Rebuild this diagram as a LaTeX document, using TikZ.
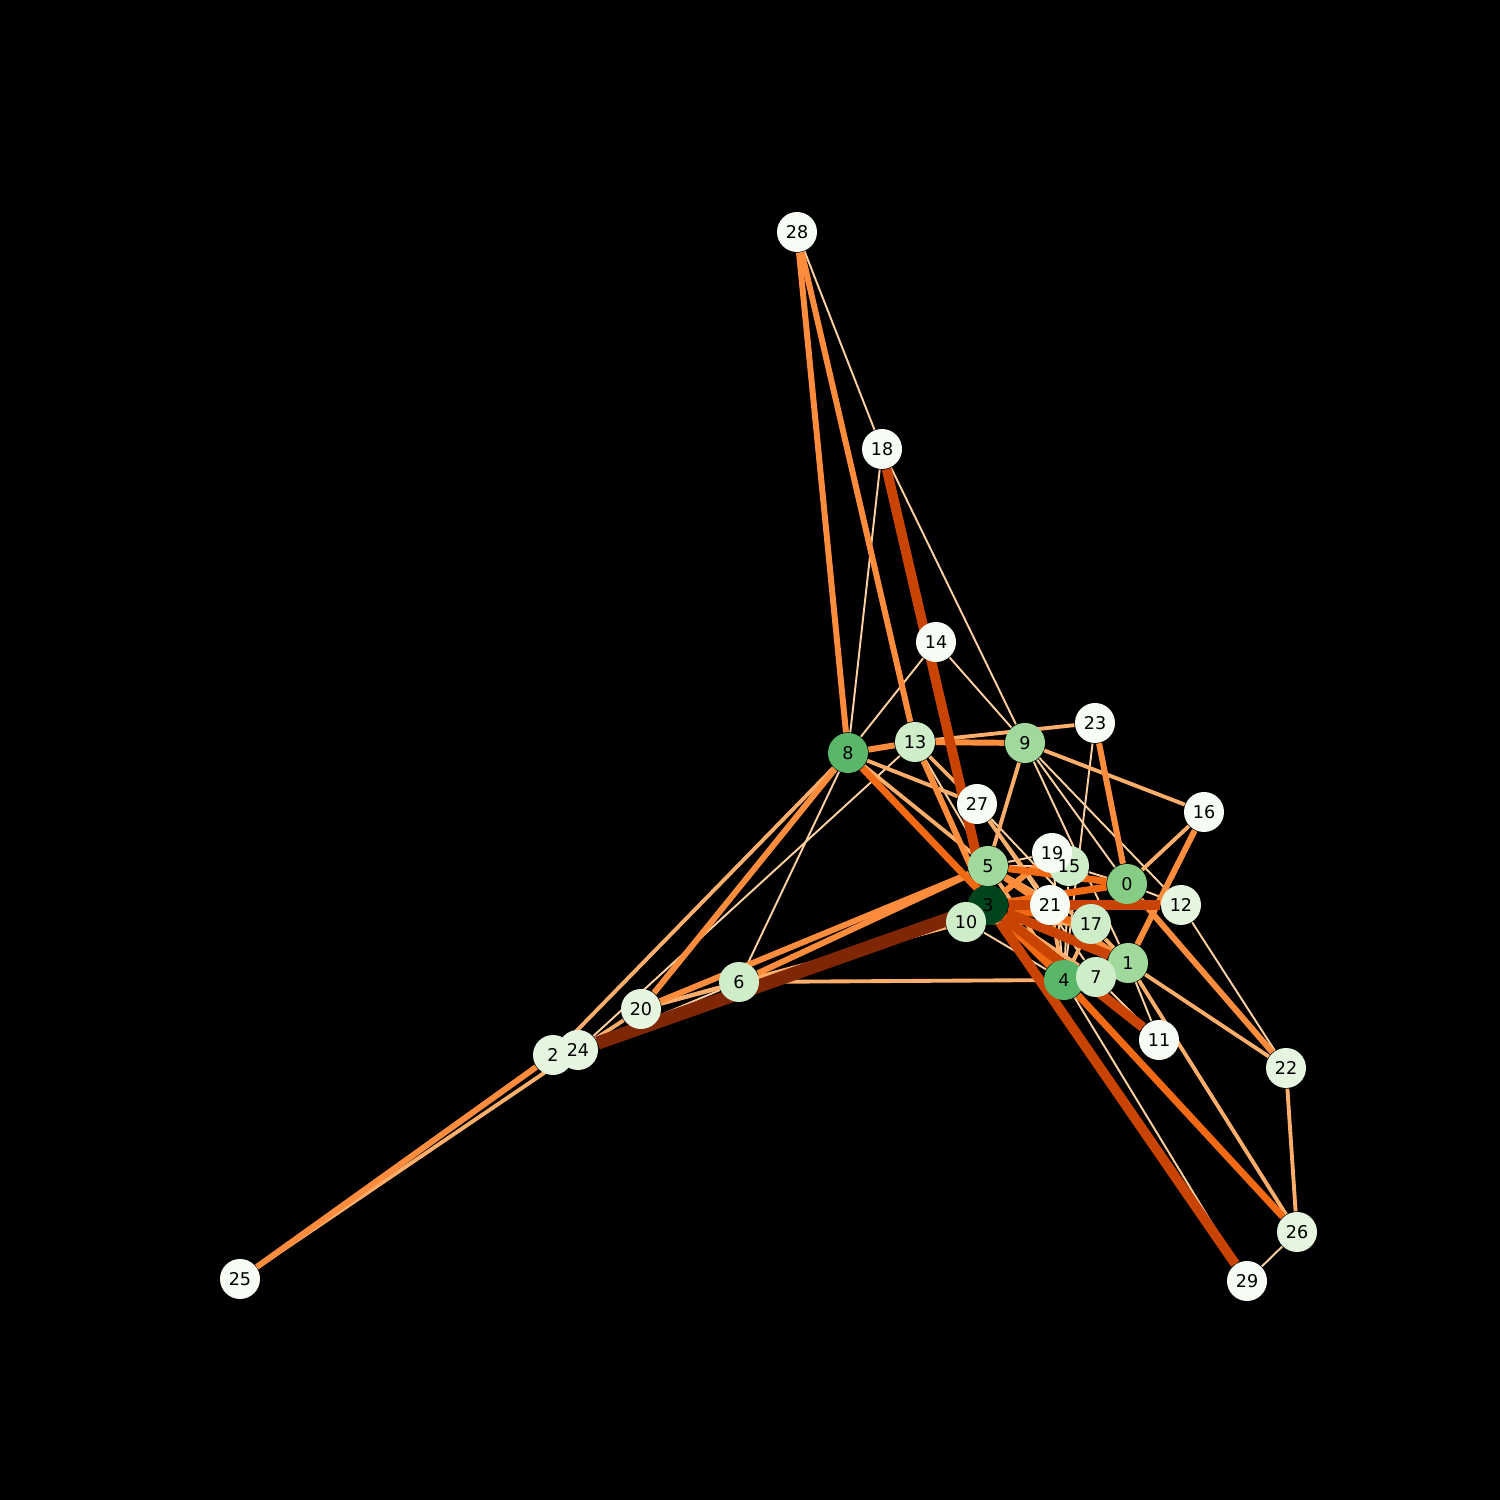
\documentclass[tikz,border=0pt]{standalone}
\usepackage{fontspec}
\setmainfont{DejaVu Sans}
\usepackage{tikz}
\usetikzlibrary{backgrounds}
\definecolor{oA}{HTML}{FDD0A2}
\definecolor{oB}{HTML}{FDAE6B}
\definecolor{oC}{HTML}{FD8D3C}
\definecolor{oD}{HTML}{F16913}
\definecolor{oE}{HTML}{C94403}
\definecolor{oG}{HTML}{7F2704}
\definecolor{gA}{HTML}{F7FCF5}
\definecolor{gB}{HTML}{E5F5E0}
\definecolor{gC}{HTML}{D0EDCA}
\definecolor{gD}{HTML}{A0D99B}
\definecolor{gE}{HTML}{86CC85}
\definecolor{gF}{HTML}{5AB769}
\definecolor{gG}{HTML}{00441B}
\tikzset{vert/.style={shape=circle,minimum size=0.4cm,inner sep=0pt}}
\tikzset{vlabel/.style={inner sep=0pt,font=\fontsize{5}{5}\selectfont}}
\tikzset{eA/.style={draw=oA,line width=0.55pt}}
\tikzset{eB/.style={draw=oB,line width=1.1pt}}
\tikzset{eC/.style={draw=oC,line width=1.7pt}}
\tikzset{eD/.style={draw=oD,line width=2pt}}
\tikzset{eE/.style={draw=oE,line width=2.8pt}}
\tikzset{eG/.style={draw=oG,line width=3.8pt}}

\begin{document}
\begin{tikzpicture}

\useasboundingbox (0,0) rectangle (15,15);

% nodes
\node [vert,fill=gE] (n0) at (11.27, 6.16) {};
\node [vert,fill=gD] (n1) at (11.28, 5.37) {};
\node [vert,fill=gB] (n2) at (5.53, 4.45) {};
\node [vert,fill=gG] (n3) at (9.88, 5.95) {};
\node [vert,fill=gF] (n4) at (10.64, 5.20) {};
\node [vert,fill=gD] (n5) at (9.88, 6.34) {};
\node [vert,fill=gC] (n6) at (7.39, 5.18) {};
\node [vert,fill=gC] (n7) at (10.96, 5.23) {};
\node [vert,fill=gF] (n8) at (8.48, 7.47) {};
\node [vert,fill=gD] (n9) at (10.25, 7.57) {};
\node [vert,fill=gC] (n10) at (9.66, 5.78) {};
\node [vert,fill=gA] (n11) at (11.59, 4.60) {};
\node [vert,fill=gB] (n12) at (11.81, 5.95) {};
\node [vert,fill=gC] (n13) at (9.15, 7.58) {};
\node [vert,fill=gA] (n14) at (9.36, 8.58) {};
\node [vert,fill=gC] (n15) at (10.69, 6.34) {};
\node [vert,fill=gA] (n16) at (12.04, 6.88) {};
\node [vert,fill=gC] (n17) at (10.91, 5.76) {};
\node [vert,fill=gA] (n18) at (8.82, 10.51) {};
\node [vert,fill=gA] (n19) at (10.52, 6.47) {};
\node [vert,fill=gB] (n20) at (6.41, 4.91) {};
\node [vert,fill=gA] (n21) at (10.50, 5.95) {};
\node [vert,fill=gB] (n22) at (12.86, 4.32) {};
\node [vert,fill=gA] (n23) at (10.95, 7.77) {};
\node [vert,fill=gB] (n24) at (5.78, 4.50) {};
\node [vert,fill=gA] (n25) at (2.40, 2.21) {};
\node [vert,fill=gB] (n26) at (12.97, 2.68) {};
\node [vert,fill=gA] (n27) at (9.77, 6.96) {};
\node [vert,fill=gA] (n28) at (7.97, 12.68) {};
\node [vert,fill=gA] (n29) at (12.47, 2.19) {};

% labels above all nodes
\foreach \i in {0,...,29} {\node [vlabel] (l\i) at (n\i) {\i};}

\begin{scope}[on background layer]
\fill [black] (0,0) rectangle (15,15);

\foreach \a/\b in {28/18,18/8,18/9,14/8,14/9,24/13,6/8,24/6,9/12,9/0,9/1,23/4,0/12,0/15,12/22,26/29,4/29,1/11,7/11,27/7,27/17,10/4,5/19,5/15,19/4,15/4,13/5,4/7}
  {\draw [eA] (n\a) -- (n\b);}
\foreach \a/\b in {13/23,8/2,24/25,8/27,8/5,13/27,9/5,9/16,16/0,1/26,1/22,22/26,6/4,20/6,20/10,6/10,24/20,10/17,5/17,5/4,21/4,17/4,17/1,7/1,27/21,3/7}
  {\draw [eB] (n\a) -- (n\b);}
\foreach \a/\b in {28/8,28/13,8/13,13/9,8/20,2/25,23/0,16/1,0/5,0/22,6/5,20/5,13/3,5/21,5/1,3/19}
  {\draw [eC] (n\a) -- (n\b);}
\foreach \a/\b in {8/4,4/26,3/0,3/21,3/17,3/4,5/0}
  {\draw [eD] (n\a) -- (n\b);}
\foreach \a/\b in {18/3,3/12,3/29,3/11,3/1}
  {\draw [eE] (n\a) -- (n\b);}
\draw [eG] (n24) -- (n3);
\end{scope}

\end{tikzpicture}
\end{document}
